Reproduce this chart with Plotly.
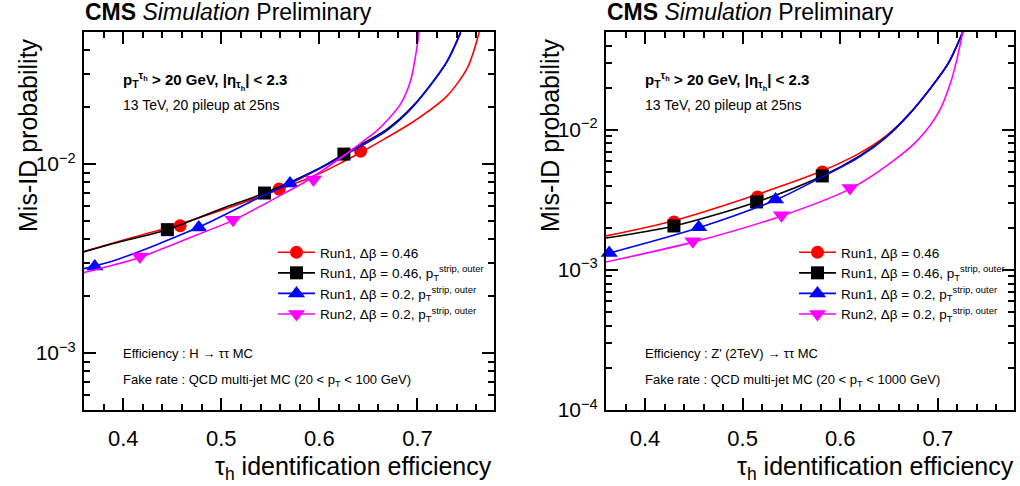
import plotly.graph_objects as go

W, H = 1020, 486

# ---------------- Left panel: H -> tautau, QCD 20-100 GeV ----------------
L_red_x = [0.360, 0.394, 0.445, 0.500, 0.544, 0.598, 0.625, 0.643, 0.666, 0.696, 0.730, 0.751, 0.763]
L_red_y = [3.44e-3, 3.88e-3, 4.60e-3, 5.70e-3, 6.87e-3, 8.80e-3, 1.035e-2, 1.16e-2, 1.355e-2, 1.68e-2, 2.29e-2, 3.24e-2, 5.00e-2]
L_red_mx = [0.458, 0.559, 0.642]
L_red_my = [4.72e-3, 7.38e-3, 1.17e-2]

L_blk_x = [0.360, 0.394, 0.445, 0.500, 0.544, 0.598, 0.625, 0.669, 0.695, 0.729, 0.744]
L_blk_y = [3.44e-3, 3.85e-3, 4.50e-3, 5.80e-3, 7.03e-3, 9.40e-3, 1.13e-2, 1.53e-2, 2.02e-2, 3.42e-2, 5.00e-2]
L_blk_mx = [0.445, 0.544, 0.625]
L_blk_my = [4.50e-3, 7.03e-3, 1.13e-2]

L_blu_x = [0.360, 0.394, 0.4755, 0.544, 0.571, 0.6255, 0.669, 0.695, 0.729, 0.744]
L_blu_y = [2.80e-3, 3.13e-3, 4.60e-3, 6.87e-3, 7.94e-3, 1.114e-2, 1.51e-2, 2.00e-2, 3.40e-2, 4.95e-2]
L_blu_mx = [0.371, 0.477, 0.570]
L_blu_my = [2.87e-3, 4.62e-3, 7.90e-3]

L_mag_x = [0.360, 0.416, 0.4755, 0.513, 0.564, 0.585, 0.6255, 0.642, 0.659, 0.672, 0.683, 0.693, 0.700, 0.7015]
L_mag_y = [2.67e-3, 3.20e-3, 4.23e-3, 5.07e-3, 7.00e-3, 8.04e-3, 1.114e-2, 1.29e-2, 1.51e-2, 1.77e-2, 2.09e-2, 2.77e-2, 4.34e-2, 5.00e-2]
L_mag_mx = [0.417, 0.512, 0.594]
L_mag_my = [3.24e-3, 5.07e-3, 8.30e-3]

# ---------------- Right panel: Z'(2TeV) -> tautau, QCD 20-1000 GeV ----------------
R_red_x = [0.360, 0.4286, 0.5133, 0.5816, 0.6194, 0.647, 0.6704, 0.6939, 0.7112, 0.7255]
R_red_y = [1.75e-3, 2.24e-3, 3.43e-3, 5.10e-3, 6.80e-3, 9.06e-3, 1.29e-2, 2.04e-2, 3.02e-2, 5.00e-2]
R_red_mx = [0.4296, 0.5153, 0.5816]
R_red_my = [2.20e-3, 3.32e-3, 5.01e-3]

R_blk_x = [0.360, 0.4296, 0.5143, 0.5816, 0.6194, 0.647, 0.6704, 0.6939, 0.7112, 0.7255]
R_blk_y = [1.69e-3, 2.06e-3, 3.06e-3, 4.69e-3, 6.50e-3, 8.90e-3, 1.29e-2, 2.04e-2, 3.02e-2, 5.00e-2]
R_blk_mx = [0.4296, 0.5143, 0.5816]
R_blk_my = [2.06e-3, 3.06e-3, 4.69e-3]

R_blu_x = [0.360, 0.455, 0.5337, 0.5816, 0.6194, 0.647, 0.6704, 0.6939, 0.7112, 0.7255]
R_blu_y = [1.30e-3, 2.00e-3, 3.16e-3, 4.62e-3, 6.40e-3, 8.85e-3, 1.29e-2, 2.05e-2, 3.05e-2, 5.00e-2]
R_blu_mx = [0.3633, 0.455, 0.5337]
R_blu_my = [1.32e-3, 2.02e-3, 3.18e-3]

R_mag_x = [0.360, 0.449, 0.5398, 0.610, 0.653, 0.6806, 0.701, 0.7133, 0.7194, 0.7255]
R_mag_y = [1.14e-3, 1.58e-3, 2.43e-3, 3.79e-3, 5.91e-3, 8.63e-3, 1.345e-2, 2.20e-2, 3.16e-2, 5.00e-2]
R_mag_mx = [0.449, 0.5398, 0.610]
R_mag_my = [1.60e-3, 2.46e-3, 3.85e-3]

series_names = [
    "Run1, Δβ = 0.46",
    "Run1, Δβ = 0.46, p<sub>T</sub><sup>strip, outer</sup>",
    "Run1, Δβ = 0.2, p<sub>T</sub><sup>strip, outer</sup>",
    "Run2, Δβ = 0.2, p<sub>T</sub><sup>strip, outer</sup>",
]
colors = ["#ff0000", "#000000", "#0000ff", "#ff00ff"]
symbols = ["circle", "square", "triangle-up", "triangle-down"]
msizes = [13, 13, 15, 15]

x_major = [0.4, 0.5, 0.6, 0.7]
x_minor = [0.36, 0.38, 0.42, 0.44, 0.46, 0.48, 0.52, 0.54, 0.56, 0.58,
           0.62, 0.64, 0.66, 0.68, 0.72, 0.74, 0.76]
y_minor = [k * 10.0 ** e for e in (-4, -3, -2) for k in range(2, 10)]

FONT = "Liberation Sans, Arial, Helvetica, sans-serif"

fig = go.Figure()

panels = [
    ("x", "y", "legend",
     [(L_red_x, L_red_y, L_red_mx, L_red_my), (L_blk_x, L_blk_y, L_blk_mx, L_blk_my),
      (L_blu_x, L_blu_y, L_blu_mx, L_blu_my), (L_mag_x, L_mag_y, L_mag_mx, L_mag_my)]),
    ("x2", "y2", "legend2",
     [(R_red_x, R_red_y, R_red_mx, R_red_my), (R_blk_x, R_blk_y, R_blk_mx, R_blk_my),
      (R_blu_x, R_blu_y, R_blu_mx, R_blu_my), (R_mag_x, R_mag_y, R_mag_mx, R_mag_my)]),
]

for xa, ya, leg, data in panels:
    for i, (cx, cy, mx, my) in enumerate(data):
        fig.add_trace(go.Scatter(x=cx, y=cy, mode="lines", xaxis=xa, yaxis=ya,
                                 line=dict(color=colors[i], width=1.6, shape="spline", smoothing=0.8),
                                 showlegend=False, hoverinfo="skip"))
        fig.add_trace(go.Scatter(x=mx, y=my, mode="markers", xaxis=xa, yaxis=ya,
                                 marker=dict(color=colors[i], symbol=symbols[i], size=msizes[i],
                                             line=dict(width=0)),
                                 showlegend=False, cliponaxis=False))
    for i in range(4):
        fig.add_trace(go.Scatter(x=[None], y=[None], mode="lines+markers", xaxis=xa, yaxis=ya,
                                 name=series_names[i], legend=leg,
                                 line=dict(color=colors[i], width=1.6),
                                 marker=dict(color=colors[i], symbol=symbols[i], size=msizes[i],
                                             line=dict(width=0))))


def xaxis_cfg(dom, anchor):
    return dict(domain=dom, anchor=anchor, range=[0.36, 0.778], showgrid=False, zeroline=False,
                showline=True, linewidth=2, linecolor="black", mirror="allticks",
                ticks="inside", ticklen=12, tickwidth=1.5, tickcolor="black",
                tickvals=x_major, ticktext=["0.4", "0.5", "0.6", "0.7"],
                ticklabelstandoff=8,
                tickfont=dict(size=22, color="black", family=FONT),
                minor=dict(tickvals=x_minor, ticks="inside", ticklen=6, tickwidth=1.5,
                           tickcolor="black", showgrid=False))


def yaxis_cfg(dom, anchor, lo, vals, texts):
    return dict(domain=dom, anchor=anchor, type="log", range=[lo, -1.301], showgrid=False,
                zeroline=False, showline=True, linewidth=2, linecolor="black", mirror="allticks",
                ticks="inside", ticklen=12, tickwidth=1.5, tickcolor="black",
                tickvals=vals, ticktext=texts, ticklabelstandoff=2,
                tickfont=dict(size=21, color="black", family=FONT),
                minor=dict(tickvals=y_minor, ticks="inside", ticklen=6, tickwidth=1.5,
                           tickcolor="black", showgrid=False))


ydom = [(H - 410) / H, (H - 32) / H]
fig.update_layout(
    width=W, height=H, margin=dict(l=0, r=0, t=0, b=0, autoexpand=False),
    paper_bgcolor="white", plot_bgcolor="white",
    font=dict(family=FONT, color="black"),
    xaxis=xaxis_cfg([84 / W, 494 / W], "y"),
    yaxis=yaxis_cfg(ydom, "x", -3.301, [1e-3, 1e-2], ["10<sup>−3</sup>", "10<sup>−2</sup>"]),
    xaxis2=xaxis_cfg([606 / W, 1014 / W], "y2"),
    yaxis2=yaxis_cfg(ydom, "x2", -4.0, [1e-4, 1e-3, 1e-2],
                     ["10<sup>−4</sup>", "10<sup>−3</sup>", "10<sup>−2</sup>"]),
    legend=dict(x=273 / W, y=(H - 237) / H, xanchor="left", yanchor="top",
                bgcolor="rgba(0,0,0,0)", font=dict(size=13.5, family=FONT),
                tracegroupgap=0, itemwidth=37),
    legend2=dict(x=794 / W, y=(H - 237) / H, xanchor="left", yanchor="top",
                 bgcolor="rgba(0,0,0,0)", font=dict(size=13.5, family=FONT),
                 tracegroupgap=0, itemwidth=37),
    showlegend=True,
)

ann = []
for x0, eff, fake in [(84, "Efficiency : H → ττ MC",
                       "Fake rate : QCD multi-jet MC (20 < p<sub>T</sub> < 100 GeV)"),
                      (606, "Efficiency : Z' (2TeV) → ττ MC",
                       "Fake rate : QCD multi-jet MC (20 < p<sub>T</sub> < 1000 GeV)")]:
    xe = x0 + 410
    ann += [
        dict(x=(x0 - 1) / W, y=(H - 12) / H, text="<b>CMS</b> <i>Simulation</i> Preliminary",
             font=dict(size=23), xanchor="left", yanchor="middle"),
        dict(x=(x0 + 37) / W, y=(H - 81) / H,
             text="<b>p<sub>T</sub><sup>τ<sub>h</sub></sup> > 20 GeV, |η<sub>τ<sub>h</sub></sub>| < 2.3</b>",
             font=dict(size=15), xanchor="left", yanchor="middle"),
        dict(x=(x0 + 37) / W, y=(H - 105) / H, text="13 TeV, 20 pileup at 25ns",
             font=dict(size=14), xanchor="left", yanchor="middle"),
        dict(x=(x0 + 37) / W, y=(H - 353) / H, text=eff,
             font=dict(size=13), xanchor="left", yanchor="middle"),
        dict(x=(x0 + 37) / W, y=(H - 380) / H, text=fake,
             font=dict(size=13), xanchor="left", yanchor="middle"),
        dict(x=xe / W, y=(H - 468) / H, text="τ<sub>h</sub> identification efficiency",
             font=dict(size=25), xanchor="right", yanchor="middle"),
        dict(x=(x0 - 56) / W, y=(H - 36) / H, text="Mis-ID probability", textangle=-90,
             font=dict(size=25), xanchor="center", yanchor="top"),
    ]
for a in ann:
    a.update(xref="paper", yref="paper", showarrow=False)
fig.update_layout(annotations=ann)

fig.write_html("out.html", config={"displayModeBar": False},
               post_script="document.body.style.margin='0px';")
